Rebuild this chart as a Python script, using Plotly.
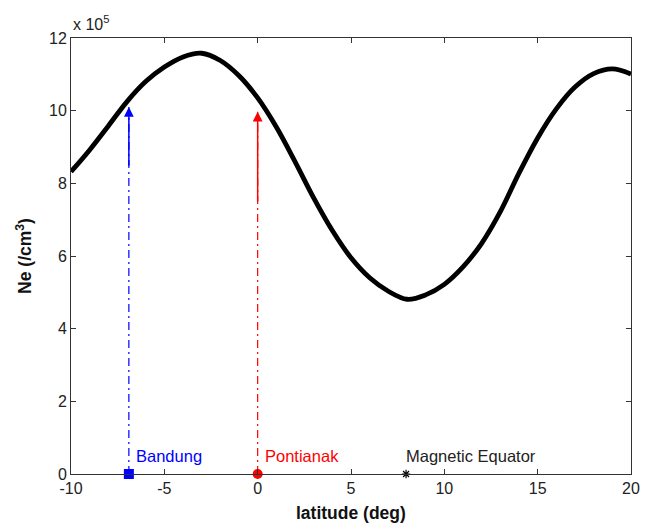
import plotly.graph_objects as go

# Data
latitude = [-10, -9, -8, -7, -6, -5, -4, -3, -2, -1, 0, 1, 2, 3, 4, 5, 6, 7, 8, 9,
            10, 11, 12, 13, 14, 15, 16, 17, 18, 19, 20]
ne = [8.32e5, 8.92e5, 9.58e5, 10.25e5, 10.8e5, 11.2e5, 11.48e5, 11.58e5, 11.38e5, 10.96e5,
      10.35e5, 9.55e5, 8.6e5, 7.6e5, 6.7e5, 5.95e5, 5.4e5, 5.03e5, 4.81e5, 4.93e5,
      5.22e5, 5.7e5, 6.35e5, 7.22e5, 8.28e5, 9.25e5, 10.05e5, 10.65e5, 11.02e5, 11.15e5, 11.01e5]
scale = 1e5

stations = ["Bandung", "Pontianak"]
station_lat = [-6.9, 0.0]
station_tip = [10.1e5, 9.97e5]
station_solid_start = [8.44e5, 7.46e5]
station_colors = ["#0000ff", "#ff0000"]
station_symbols = ["square", "circle"]

equator_label = "Magnetic Equator"
equator_lat = 7.95

xticks = [-10, -5, 0, 5, 10, 15, 20]
yticks = [0, 2, 4, 6, 8, 10, 12]

font = "Liberation Sans, Arial, Helvetica, sans-serif"

fig = go.Figure()

fig.add_trace(go.Scatter(
    x=latitude, y=[v / scale for v in ne], mode="lines",
    line=dict(color="black", width=4.8, shape="spline", smoothing=1.0),
    showlegend=False, hoverinfo="skip"))

annotations = []
for name, lat, tip, ss, col, sym in zip(stations, station_lat, station_tip,
                                       station_solid_start, station_colors, station_symbols):
    fig.add_trace(go.Scatter(
        x=[lat, lat], y=[0, tip / scale], mode="lines",
        line=dict(color=col, width=1.2, dash="8px,4px,2px,4px"),
        showlegend=False, hoverinfo="skip"))
    fig.add_trace(go.Scatter(
        x=[lat], y=[0], mode="markers",
        marker=dict(color=col, symbol=sym, size=10, line=dict(width=0)),
        showlegend=False, hoverinfo="skip", cliponaxis=False))
    annotations.append(dict(
        x=lat, y=tip / scale, ax=lat, ay=ss / scale,
        xref="x", yref="y", axref="x", ayref="y",
        showarrow=True, arrowhead=2, arrowsize=1.3, arrowwidth=1.5,
        arrowcolor=col, text="", standoff=0, startstandoff=0))
    annotations.append(dict(
        x=lat + 0.3, y=0.5, xref="x", yref="y", text=name,
        showarrow=False, xanchor="left", yanchor="middle",
        font=dict(family=font, size=16.5, color=col)))

fig.add_trace(go.Scatter(
    x=[equator_lat], y=[0], mode="markers",
    marker=dict(color="black", symbol="asterisk", size=7, line=dict(width=1.2, color="black")),
    showlegend=False, hoverinfo="skip", cliponaxis=False))
annotations.append(dict(
    x=equator_lat - 0.1, y=0.5, xref="x", yref="y", text=equator_label,
    showarrow=False, xanchor="left", yanchor="middle",
    font=dict(family=font, size=16.5, color="#222222")))

annotations.append(dict(
    x=0.0, y=1.0, xref="paper", yref="paper", text="x 10<sup>5</sup>",
    showarrow=False, xanchor="left", yanchor="bottom", yshift=3,
    font=dict(family=font, size=16, color="#222222")))

# x-axis title placed as annotation so the plot area keeps its size
annotations.append(dict(
    x=0.5, y=0.0, xref="paper", yref="paper", text="<b>latitude (deg)</b>",
    showarrow=False, xanchor="center", yanchor="top", yshift=-27,
    font=dict(family=font, size=17.5, color="#111111")))

axis_common = dict(
    showgrid=False, zeroline=False, showline=True, linecolor="#333333", linewidth=1,
    mirror="ticks", ticks="inside", ticklen=5, tickcolor="#333333", automargin=False,
    tickfont=dict(family=font, size=16, color="#222222"))

fig.update_layout(
    width=651, height=523,
    margin=dict(l=71, r=20, t=38, b=49),
    plot_bgcolor="white", paper_bgcolor="white",
    annotations=annotations,
    xaxis=dict(range=[-10, 20], tickvals=xticks, ticktext=[str(t) for t in xticks],
               **axis_common),
    yaxis=dict(range=[0, 12], tickvals=yticks, ticktext=[str(t) for t in yticks],
               title=dict(text="<b>Ne (/cm<sup>3</sup>)</b>", standoff=12,
                          font=dict(family=font, size=17.5, color="#111111")),
               **axis_common),
)

fig.write_html("out.html", config={"displayModeBar": False},
               post_script="document.body.style.margin='0';document.body.style.overflow='hidden';")
